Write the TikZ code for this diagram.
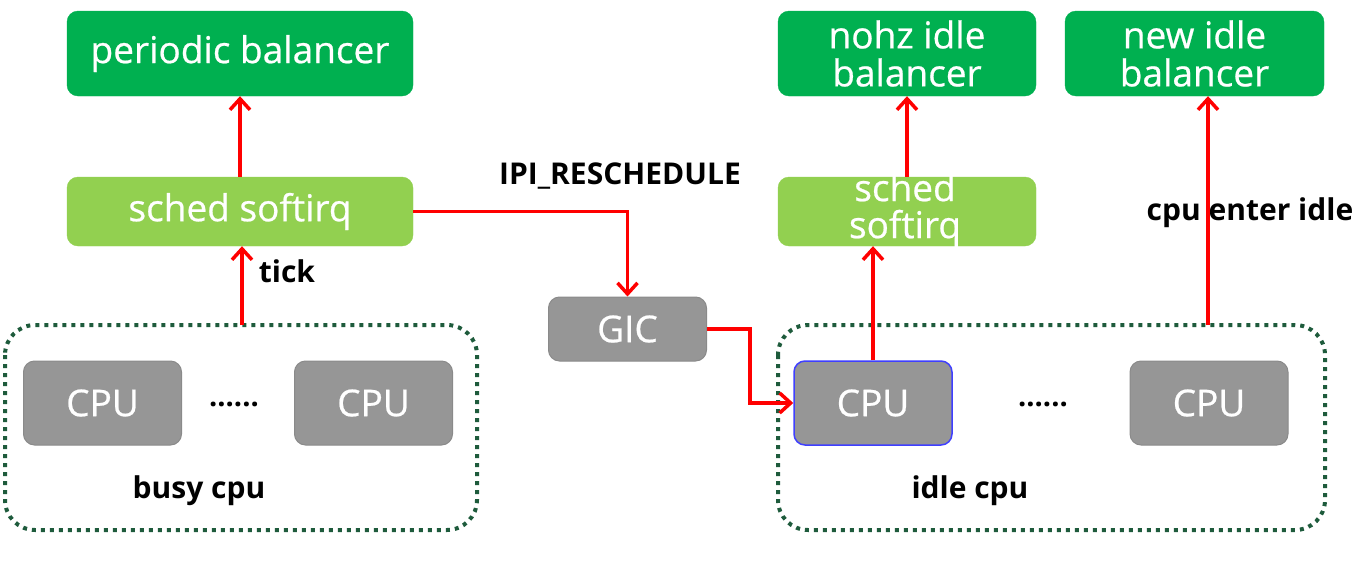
\documentclass[tikz,border=0pt]{standalone}
\usepackage{fontspec}
\setmainfont{Open Sans}
\newfontfamily\boxfont[FakeBold=0.6]{Open Sans}
\usetikzlibrary{arrows.meta}
\definecolor{dgreen}{HTML}{00B050}
\definecolor{lgreen}{HTML}{92D050}
\definecolor{cpugray}{HTML}{969696}
\definecolor{cpuedge}{HTML}{8A8A8A}
\definecolor{dotgreen}{HTML}{1E5B3C}
\definecolor{hiblue}{HTML}{3F3FFF}
\tikzset{
  balbox/.style={draw=dgreen, fill=dgreen, rounded corners=11pt, text=white, font=\boxfont\fontsize{37}{38}\selectfont, align=center, inner sep=0pt},
  softbox/.style={draw=lgreen, fill=lgreen, rounded corners=11pt, text=white, font=\boxfont\fontsize{37}{38}\selectfont, align=center, inner sep=0pt},
  cpubox/.style={draw=cpuedge, line width=1pt, fill=cpugray, rounded corners=11pt, text=white, font=\boxfont\fontsize{37}{38}\selectfont, minimum width=158pt, minimum height=84pt, inner sep=0pt},
  group/.style={draw=dotgreen, line width=4pt, dash pattern=on 4pt off 5pt, rounded corners=30pt},
  lbl/.style={font=\bfseries\fontsize{30}{32}\selectfont, text=black, inner sep=0pt},
  dots/.style={font=\bfseries\fontsize{29}{30}\selectfont, inner sep=0pt},
  redarrow/.style={draw=red, line width=3.5pt, -{Straight Barb[length=11pt,width=20pt,line width=3.5pt]}},
}
\begin{document}
\begin{tikzpicture}[x=1pt,y=-1pt]
\useasboundingbox (0,0) rectangle (1369,573);
% groups
\draw[group] (5,325) rectangle (477,530);
\draw[group] (778,325) rectangle (1325,530);
% top boxes
\node[balbox, minimum width=346pt, minimum height=85pt] (pb) at (240,53.5) {periodic balancer};
\node[softbox, minimum width=346pt, minimum height=69pt] (ss1) at (240,211.5) {sched softirq};
\node[balbox, minimum width=258pt, minimum height=85pt] (nohz) at (907,53.5) {nohz idle\\balancer};
\node[balbox, minimum width=259pt, minimum height=85pt] (newi) at (1194.5,53.5) {new idle\\balancer};
\node[softbox, minimum width=258pt, minimum height=69pt] (ss2) at (907,211.5) {};
\node[text=white, font=\boxfont\fontsize{37}{37}\selectfont, align=center, inner sep=0pt] (ss2t) at (905,210) {sched\\softirq};
% cpus
\node[cpubox] (c1) at (102.5,403) {CPU};
\node[cpubox] (c2) at (373.5,403) {CPU};
\node[cpubox, draw=hiblue, line width=1.5pt] (c3) at (873,403) {CPU};
\node[cpubox] (c4) at (1209,403) {CPU};
\node[cpubox, minimum height=64pt] (gic) at (627.5,329) {GIC};
\node[dots] (d1) at (234,404) {......};
\node[dots] (d2) at (1043,404) {......};
% labels
\node[lbl] (busy) at (199,491) {busy cpu};
\node[lbl] (idle) at (970,491) {idle cpu};
\node[lbl] (tick) at (287,271) {tick};
\node[lbl] (ipi) at (620,176) {IPI\_RESCHEDULE};
\node[lbl] (enter) at (1250,213) {cpu enter idle};
% anchors
\coordinate (busytop) at (242,325);
\coordinate (idletop) at (1208,325);
% arrows
\draw[redarrow] (ss1.north) -- (pb.south);
\draw[redarrow] (busytop) -- (busytop |- ss1.south);
\draw[redarrow] (ss1.east) -- (gic.north |- ss1.east) -- (gic.north);
\draw[redarrow] (gic.east) -- ++(43,0) |- (c3.west);
\draw[redarrow] (c3.north) -- (c3.north |- ss2.south);
\draw[redarrow] (ss2.north) -- (nohz.south);
\draw[redarrow] (idletop) -- (idletop |- newi.south);
\end{tikzpicture}
\end{document}
